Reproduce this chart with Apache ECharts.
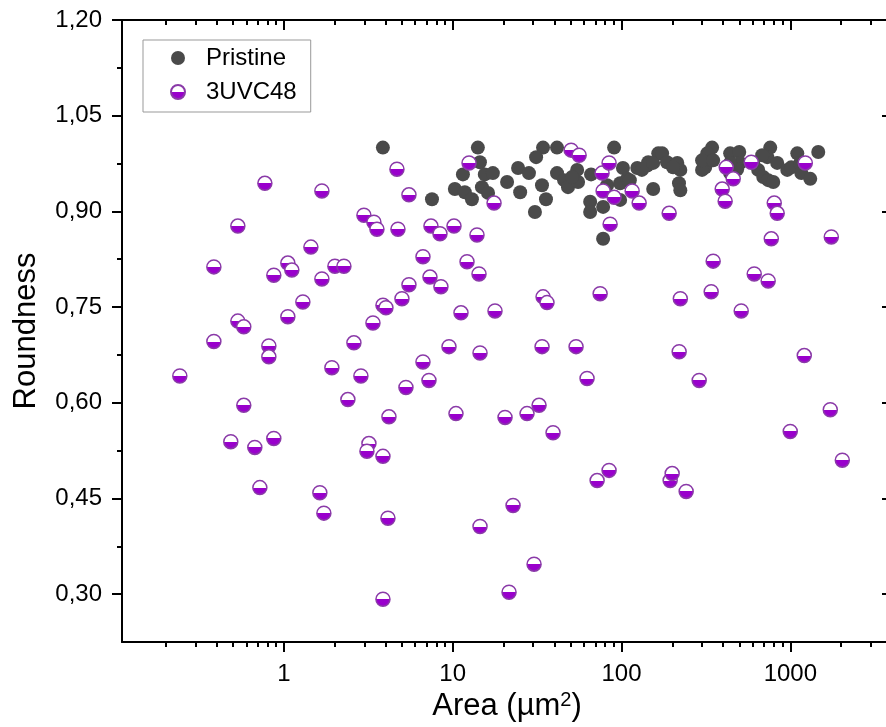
<!DOCTYPE html>
<html>
<head>
<meta charset="utf-8">
<script src="https://cdn.jsdelivr.net/npm/echarts@6/dist/echarts.min.js"></script>
<style>
html,body{margin:0;padding:0;background:#fff;}
#chart{width:886px;height:727px;}
</style>
</head>
<body>
<div id="chart"></div>
<script>
// ---- data ----
const pristineArea = [3.86,7.54,10.3,11.8,13.0,11.5,14.1,14.5,15.5,17.3,14.9,16.2,21.0,24.4,28.3,25.1,30.7,34.3,41.5,31.2,33.8,35.7,41.5,45.7,48.2,54.6,55.3,51.0,66.0,65.2,65.2,77.8,77.8,90.4,82.2,98.1,102,108,98.1,124,132,144,154,165,142,154,174,186,214,223,202,219,223,112,344,322,313,300,300,349,440,498,505,484,440,440,603,645,691,739,792,760,730,681,836,959,1012,1099,1145,1161,1312,1463];
const pristineRound = [1.000,0.919,0.935,0.930,0.919,0.958,1.000,0.977,0.958,0.960,0.938,0.929,0.946,0.968,0.960,0.930,0.899,1.000,1.000,0.985,0.941,0.919,0.960,0.949,0.938,0.965,0.946,0.954,0.958,0.915,0.899,0.907,0.857,1.000,0.941,0.944,0.968,0.951,0.918,0.968,0.965,0.977,0.935,0.991,0.972,0.976,0.991,0.977,0.976,0.965,0.969,0.944,0.933,0.949,1.000,0.991,0.969,0.965,0.980,0.980,0.991,0.993,0.976,0.966,0.976,0.960,0.976,0.965,0.954,0.949,0.946,1.000,0.985,0.988,0.976,0.965,0.969,0.991,0.976,0.960,0.951,0.993];
const uvcArea = [0.242,0.385,0.385,0.485,0.534,0.534,0.579,0.579,0.673,0.721,0.772,0.815,0.815,0.872,0.872,1.056,1.115,1.056,1.296,1.446,1.634,1.726,1.680,1.680,1.925,2.006,2.269,2.395,2.600,2.860,2.980,3.191,3.105,3.371,3.416,3.559,3.864,4.024,3.864,3.864,4.193,4.136,4.741,4.676,5.006,5.287,5.508,5.508,6.668,6.668,7.237,7.336,7.436,8.41,8.52,9.51,10.18,10.46,11.2,12.16,12.5,13.93,14.32,14.52,14.52,17.58,17.81,20.42,21.57,22.78,27.56,30.34,32.48,33.83,34.3,36.2,39.3,50.3,56.1,53.8,62.5,71.7,74.7,76.7,77.8,84.4,84.4,85.6,90.4,115.6,127.2,191.5,194.1,199.5,219.5,223,241.5,288.4,339.7,349,394.8,411,417,458.7,511.6,586.6,611,739,771,802.8,836,998.6,1209,1226,1724,1748,2031];
const uvcRound = [0.642,0.813,0.696,0.539,0.877,0.728,0.719,0.596,0.530,0.467,0.944,0.689,0.672,0.800,0.544,0.819,0.808,0.735,0.758,0.844,0.459,0.427,0.794,0.932,0.655,0.814,0.814,0.605,0.694,0.642,0.894,0.536,0.524,0.725,0.883,0.872,0.753,0.749,0.516,0.292,0.578,0.419,0.872,0.966,0.763,0.624,0.926,0.785,0.664,0.829,0.635,0.797,0.877,0.865,0.782,0.688,0.877,0.583,0.741,0.821,0.976,0.863,0.802,0.678,0.406,0.913,0.744,0.577,0.303,0.439,0.583,0.347,0.596,0.688,0.766,0.757,0.553,0.996,0.988,0.688,0.638,0.478,0.771,0.960,0.932,0.976,0.494,0.880,0.922,0.932,0.913,0.897,0.478,0.489,0.680,0.763,0.461,0.635,0.774,0.822,0.935,0.916,0.969,0.951,0.744,0.977,0.802,0.791,0.857,0.913,0.897,0.555,0.674,0.976,0.589,0.860,0.510];
const xMajorTicks = [1, 10, 100, 1000];
const xMinorTicks = [0.2,0.3,0.4,0.5,0.6,0.7,0.8,0.9,2,3,4,5,6,7,8,9,20,30,40,50,60,70,80,90,200,300,400,500,600,700,800,900,2000,3000];
const yMajorTicks = [0.30, 0.45, 0.60, 0.75, 0.90, 1.05, 1.20];
const yMinorTicks = [0.375, 0.525, 0.675, 0.825, 0.975, 1.125];

// ---- chart ----
const FONT = '"Liberation Sans", Arial, Helvetica, sans-serif';
const chart = echarts.init(document.getElementById('chart'), null, {renderer: 'canvas'});
const pristineData = pristineArea.map((a, i) => [a, pristineRound[i]]);
const uvcData = uvcArea.map((a, i) => [a, uvcRound[i]]);
const PURPLE = '#9900cc';
const halfFill = {
  type: 'linear', x: 0, y: 0, x2: 0, y2: 1,
  colorStops: [
    {offset: 0, color: '#ffffff'}, {offset: 0.5, color: '#ffffff'},
    {offset: 0.5, color: PURPLE}, {offset: 1, color: PURPLE}
  ]
};
const XMIN = 0.11, XMAX = 4000, YMIN = 0.225, YMAX = 1.2;
const lineStyle = {color: '#000', width: 2};
function xAx(pos, ticks, len, inside, showLine, extra) {
  return Object.assign({
    type: 'log', logBase: 10, gridIndex: 0, position: pos, min: XMIN, max: XMAX,
    axisLine: {show: showLine, onZero: false, lineStyle: lineStyle},
    axisTick: {show: true, inside: inside, length: len, customValues: ticks, lineStyle: lineStyle},
    axisLabel: {show: false},
    splitLine: {show: false}, minorTick: {show: false}, minorSplitLine: {show: false}
  }, extra || {});
}
function yAx(pos, ticks, len, inside, showLine, extra) {
  return Object.assign({
    type: 'value', gridIndex: 0, position: pos, min: YMIN, max: YMAX,
    axisLine: {show: showLine, onZero: false, lineStyle: lineStyle},
    axisTick: {show: true, inside: inside, length: len, customValues: ticks, lineStyle: lineStyle},
    axisLabel: {show: false},
    splitLine: {show: false}
  }, extra || {});
}
const option = {
  backgroundColor: '#fff',
  animation: false,
  textStyle: {fontFamily: FONT},
  grid: {left: 122, top: 20, width: 770, height: 622, containLabel: false, outerBoundsMode: 'none'},
  legend: {
    orient: 'vertical', left: 143, top: 40,
    padding: [6, 14, 8, 27],
    itemGap: 10, itemWidth: 14, itemHeight: 14,
    borderColor: '#999', borderWidth: 1, borderRadius: 0,
    textStyle: {fontSize: 24, color: '#000', fontFamily: FONT, lineHeight: 24, padding: [0, 0, 0, 16]},
    data: ['Pristine', '3UVC48']
  },
  xAxis: [
    xAx('bottom', xMajorTicks, 10, false, true, {
      axisLabel: {show: true, customValues: xMajorTicks, fontSize: 24, color: '#000', fontFamily: FONT, margin: 20,
        formatter: v => String(Math.round(v))},
      name: 'Area (µm{sup|2})', nameLocation: 'middle', nameGap: 46,
      nameTextStyle: {fontSize: 31, color: '#000', fontFamily: FONT,
        rich: {sup: {fontSize: 20, color: '#000', fontFamily: FONT, verticalAlign: 'top', lineHeight: 20, padding: [0, 0, 18, 0]}}}
    }),
    xAx('bottom', xMinorTicks, 5, false, false),
    xAx('top', xMajorTicks, 10, true, true),
    xAx('top', xMinorTicks, 5, true, false)
  ],
  yAxis: [
    yAx('left', yMajorTicks, 10, false, true, {
      axisLabel: {show: true, customValues: yMajorTicks, fontSize: 24, color: '#000', fontFamily: FONT, margin: 20,
        formatter: v => v.toFixed(2).replace('.', ',')},
      name: 'Roundness', nameLocation: 'middle', nameGap: 80, nameRotate: 90,
      nameTextStyle: {fontSize: 31, color: '#000', fontFamily: FONT}
    }),
    yAx('left', yMinorTicks, 5, false, false),
    yAx('right', yMajorTicks, 10, true, true),
    yAx('right', yMinorTicks, 5, true, false)
  ],
  series: [
    {
      name: 'Pristine', type: 'scatter', xAxisIndex: 0, yAxisIndex: 0,
      symbol: 'circle', symbolSize: 14,
      itemStyle: {color: '#4a4a4a', opacity: 1},
      data: pristineData
    },
    {
      name: '3UVC48', type: 'scatter', xAxisIndex: 0, yAxisIndex: 0,
      symbol: 'circle', symbolSize: 14,
      itemStyle: {color: halfFill, borderColor: '#8a3aa8', borderWidth: 1.5, opacity: 1},
      data: uvcData
    }
  ]
};
chart.setOption(option);
</script>
</body>
</html>
